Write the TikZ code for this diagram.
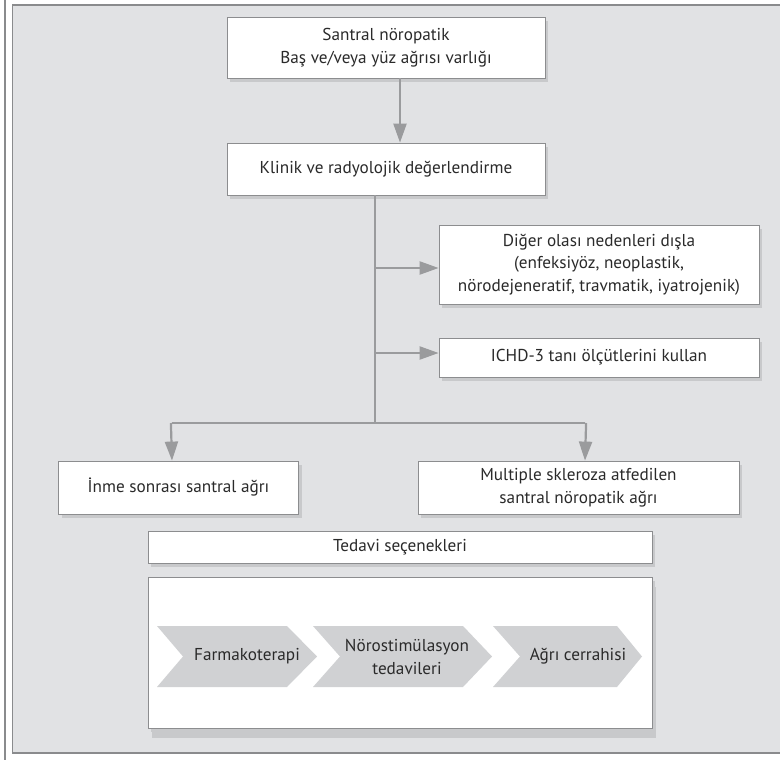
\documentclass[tikz,border=0pt]{standalone}
\usepackage{fontspec}
\setmainfont{PT Sans}
\usetikzlibrary{arrows.meta,shadows}
\definecolor{panel}{HTML}{E1E2E4}
\definecolor{frame}{HTML}{8A8B8D}
\definecolor{boxline}{HTML}{8C8D8F}
\definecolor{shade}{HTML}{C8C9CB}
\definecolor{link}{HTML}{9A9B9D}
\definecolor{chev}{HTML}{D0D1D3}
\definecolor{ink}{HTML}{2A2A2A}
\tikzset{
  box/.style={draw=boxline, line width=0.8pt, fill=white, text=ink,
    align=center, inner sep=0pt, font=\fontsize{17.2}{22.5}\selectfont,
    drop shadow={shadow xshift=3pt, shadow yshift=-4pt, fill=shade, opacity=1}},
  link/.style={draw=link, line width=2.2pt},
  arr/.style={link, -{Triangle[width=13pt,length=19pt]}},
  chevtext/.style={text=ink, align=center, inner sep=0pt,
    font=\fontsize{17.2}{23}\selectfont},
}
\begin{document}
\begin{tikzpicture}[x=1pt,y=-1pt]
\useasboundingbox (0,0) rectangle (780,760);
% page background and panel frame
\fill[white] (0,0) rectangle (780,760);
\fill[panel] (12,5) rectangle (780,753);
\draw[frame, line width=1.2pt] (5,0) -- (5,760);
\draw[frame, line width=1.6pt] (780,5) -- (12.5,5) -- (12.5,753) -- (780,753);

% flow boxes
\node[box, minimum width=318pt, minimum height=61pt] (b1) at (386,47.5)
  {Santral nöropatik\\Baş ve/veya yüz ağrısı varlığı};
\node[box, minimum width=318pt, minimum height=52pt] (b2) at (386,169)
  {Klinik ve radyolojik değerlendirme};
\node[box, minimum width=320pt, minimum height=79pt] (b3) at (599,264.5)
  {Diğer olası nedenleri dışla\\(enfeksiyöz, neoplastik,\\nörodejeneratif, travmatik, iyatrojenik)};
\node[box, minimum width=320pt, minimum height=39pt] (b4) at (599,357.5)
  {ICHD-3 tanı ölçütlerini kullan};
\node[box, minimum width=240pt, minimum height=53pt] (b5) at (178.5,487.5)
  {İnme sonrası santral ağrı};
\node[box, minimum width=321pt, minimum height=53pt] (b6) at (578.5,487.5)
  {Multiple skleroza atfedilen\\santral nöropatik ağrı};
\node[box, minimum width=504pt, minimum height=32pt] (b7) at (400,547)
  {Tedavi seçenekleri};
\node[box, minimum width=504pt, minimum height=151pt,
  drop shadow={shadow xshift=4pt, shadow yshift=-10pt, fill=shade, opacity=1}] (b8) at (400,652.5) {};

% connectors
\draw[arr] ([xshift=14pt]b1.south) -- ([xshift=14pt]b2.north);
\coordinate (j) at (375,423);
\coordinate (jl) at (172,423);
\coordinate (jr) at (585,423);
\coordinate (t1) at (375,268);
\coordinate (t2) at (375,353);
\draw[link] (j |- b2.south) -- (j);
\draw[link] (jl) -- (jr);
\draw[arr] ([xshift=-1.1pt]jl) -- (jl |- b5.north);
\draw[arr] ([xshift=1.1pt]jr) -- (jr |- b6.north);
\draw[arr] (t1) -- (t1 -| b3.west);
\draw[arr] (t2) -- (t2 -| b4.west);

% treatment chevrons
\fill[chev] (157,626) -- (287,626) -- (317,656.5) -- (287,687) -- (157,687) -- (183,656.5) -- cycle;
\fill[chev] (313,626) -- (463,626) -- (492,656.5) -- (463,687) -- (313,687) -- (340,656.5) -- cycle;
\fill[chev] (493,626) -- (617,626) -- (642,656.5) -- (617,687) -- (493,687) -- (520,656.5) -- cycle;
\node[chevtext] (c1) at (247,656.5) {Farmakoterapi};
\node[chevtext] (c2) at (407,656.5) {Nörostimülasyon\\tedavileri};
\node[chevtext] (c3) at (578,656.5) {Ağrı cerrahisi};
\end{tikzpicture}
\end{document}
